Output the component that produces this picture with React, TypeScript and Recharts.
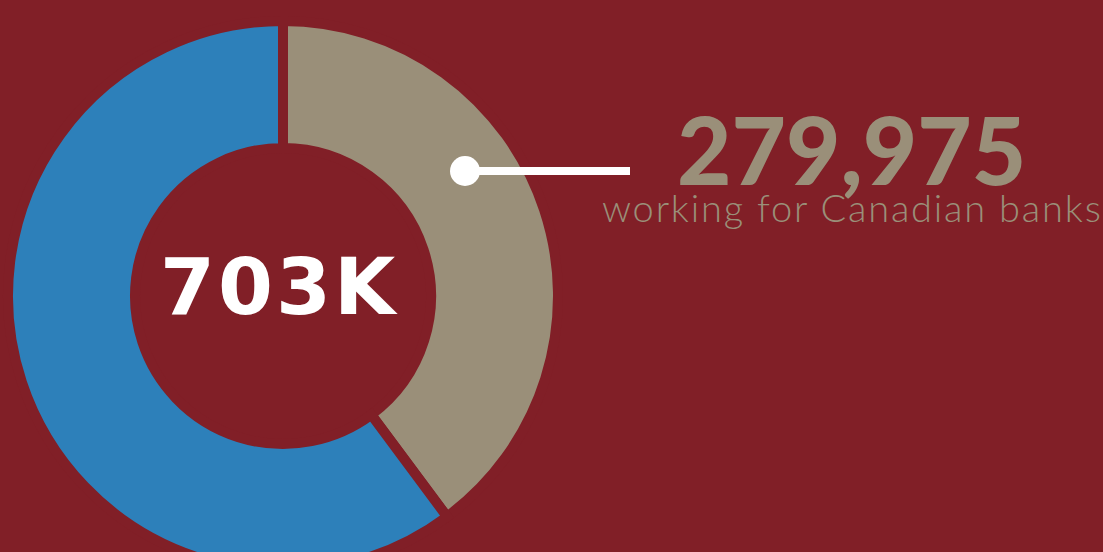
import React from "react";
import { PieChart, Pie, Cell, Label } from "recharts";

const BG = "#811f27";
const TAN = "#9a8f79";
const BLUE = "#2d80ba";

const segmentNames = ["Canadian banks", "Other employers"];
const segmentValues = [279975, 423025];
const segmentColors = [TAN, BLUE];
const totalLabel = "703K";
const calloutValue = "279,975";
const calloutText = "working for Canadian banks";

const data = segmentNames.map((name, i) => ({ name, value: segmentValues[i] }));

export default function App() {
  return (
    <div style={{ position: "absolute", left: 0, top: 0, width: 1103, height: 552, background: BG, overflow: "hidden" }}>
      <PieChart
        width={1103}
        height={552}
        margin={{ top: 0, right: 0, bottom: 0, left: 0 }}
        style={{ position: "absolute", left: 0, top: 0 }}
      >
        <Pie
          data={data}
          dataKey="value"
          nameKey="name"
          cx={283}
          cy={296}
          innerRadius={148}
          outerRadius={275}
          startAngle={90}
          endAngle={-270}
          stroke={BG}
          strokeWidth={10}
          isAnimationActive={false}
        >
          {data.map((d, i) => (
            <Cell key={d.name} fill={segmentColors[i]} stroke={BG} strokeWidth={10} />
          ))}
          <Label
            position="center"
            content={() => (
              <text
                x={160}
                y={314}
                fill="#ffffff"
                fontFamily="'DejaVu Sans', sans-serif"
                fontWeight={700}
                fontSize={79}
                letterSpacing={3}
              >
                {totalLabel}
              </text>
            )}
          />
        </Pie>
      </PieChart>
      <svg width={1103} height={552} style={{ position: "absolute", left: 0, top: 0, pointerEvents: "none" }}>
        <line x1={465} y1={171} x2={630} y2={171} stroke="#ffffff" strokeWidth={8} />
        <circle cx={465} cy={171} r={15} fill="#ffffff" />
        <text x={677} y={185} fill={TAN} fontFamily="Lato, sans-serif" fontWeight={900} fontSize={94}>
          {calloutValue}
        </text>
        <text x={602} y={222} fill={TAN} fontFamily="Lato, sans-serif" fontWeight={300} fontSize={38} letterSpacing={1.8}>
          {calloutText}
        </text>
      </svg>
    </div>
  );
}
